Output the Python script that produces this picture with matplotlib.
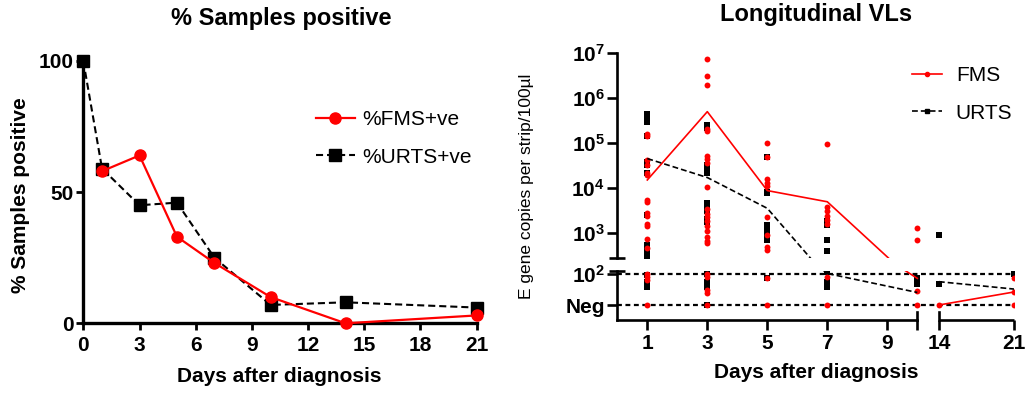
import matplotlib
matplotlib.use('Agg')
import matplotlib.pyplot as plt
from matplotlib.lines import Line2D
import numpy as np

plt.rcParams['font.family'] = 'Liberation Sans'
plt.rcParams['mathtext.fontset'] = 'custom'
plt.rcParams['mathtext.rm'] = 'Liberation Sans'
plt.rcParams['mathtext.bf'] = 'Liberation Sans:bold'

# ---- left panel: % samples positive ----
fms_days = [1, 3, 5, 7, 10, 14, 21]
fms_pct = [58, 64, 33, 23, 10, 0, 3]
urts_days = [0, 1, 3, 5, 7, 10, 14, 21]
urts_pct = [100, 59, 45, 46, 25, 7, 8, 6]

# ---- right panel: longitudinal viral loads ----
NEG = 10  # value used for negative samples on the lower segment
vl_days = [1, 3, 5, 7, 10, 14, 21]
fms_mean = [1.5e4, 5.0e5, 8.7e3, 4.9e3, 70, NEG, 26]
urts_mean = [4.5e4, 1.7e4, 3.5e3, 100, 25, 55, 32]

fms_d1 = [1.6e5, 1.45e5, 4.2e4, 3.3e4, 2.1e4, 1.9e4, 5.5e3, 4.8e3, 2.7e3, 2.4e3,
          1.6e3, 1.4e3, 7.2e2, 4.5e2, 98, 75, 60, NEG]
urts_d1 = [4.4e5, 3.6e5, 2.9e5, 1.4e5, 3.8e4, 3.2e4, 2.2e4, 2.5e3, 5.3e2, 4.1e2,
           3.0e2, 88, 55, 45, 38]
fms_d3 = [7.5e6, 3.1e6, 2.0e6, 2.1e5, 1.9e5, 5.1e4, 4.3e4, 3.5e4, 1.07e4, 3.3e3,
          2.6e3, 2.2e3, 1.8e3, 1.4e3, 1.1e3, 8.0e2, 6.5e2, 6.0e2, 100, 75, 30, 24, NEG]
urts_d3 = [2.5e5, 2.2e5, 3.2e4, 2.5e4, 2.1e4, 4.5e3, 3.8e3, 3.0e3, 2.0e3, 1.7e3,
           95, 55, 45, 38, NEG]
fms_d5 = [1.0e5, 5.0e4, 1.6e4, 1.3e4, 1.1e4, 2.3e3, 9.0e2, 4.9e2, 4.2e2, 70, NEG]
urts_d5 = [5.0e4, 8.1e3, 7.5e3, 1.5e3, 1.3e3, 1.1e3, 9.0e2, 8.0e2, 7.0e2, 70]
fms_d7 = [9.5e4, 3.8e3, 3.0e3, 2.4e3, 1.9e3, 1.6e3, 80, NEG]
urts_d7 = [1.8e3, 1.5e3, 6.9e2, 4.0e2, 110, 55, 38]
fms_d10 = [1.3e3, 6.9e2, 27, NEG]
urts_d10 = [70, 45]
fms_d14 = [NEG]
urts_d14 = [8.9e2, 45]
fms_d21 = [70, 26, NEG]
urts_d21 = [100]

fms_points = [fms_d1, fms_d3, fms_d5, fms_d7, fms_d10, fms_d14, fms_d21]
urts_points = [urts_d1, urts_d3, urts_d5, urts_d7, urts_d10, urts_d14, urts_d21]

fig = plt.figure(figsize=(10.27, 3.95), dpi=100)
W, H = 1027.0, 395.0

def box(x0, y0, x1, y1):
    # pixel box (top-left origin) -> figure fraction
    return [x0 / W, (H - y1) / H, (x1 - x0) / W, (y1 - y0) / H]

TICKFS = 15
LABFS = 15

# ================= left panel =================
ax1 = fig.add_axes(box(83.3, 61, 476.7, 323.3))
ax1.plot(urts_days, urts_pct, color='black', lw=1.5, ls=(0, (3.4, 1.9)),
         marker='s', ms=8.5, label='%URTS+ve', zorder=3)
ax1.plot(fms_days, fms_pct, color='red', lw=1.6, marker='o', ms=8,
         label='%FMS+ve', zorder=4)
ax1.set_xlim(0, 21)
ax1.set_ylim(0, 100)
ax1.set_xticks(range(0, 22, 3))
ax1.set_yticks([0, 50, 100])
for s in ['top', 'right']:
    ax1.spines[s].set_visible(False)
for s in ['left', 'bottom']:
    ax1.spines[s].set_linewidth(2.4)
ax1.tick_params(width=2, length=5, labelsize=TICKFS, pad=2)
ax1.tick_params(axis='x', pad=4)
for lab in ax1.get_xticklabels() + ax1.get_yticklabels():
    lab.set_fontweight('bold')
ax1.patch.set_alpha(0)
for ln in ax1.lines:
    ln.set_clip_on(False)

h, l = ax1.get_legend_handles_labels()
fig.legend(h[::-1], l[::-1], loc='upper left', bbox_to_anchor=(316 / W, (H - 110) / H),
           frameon=False, fontsize=15, handlelength=1.85, handletextpad=0.35,
           labelspacing=0.9, borderpad=0, borderaxespad=0)

fig.text(281 / W, (H - 18) / H, '% Samples positive', fontsize=17,
         fontweight='bold', ha='center', va='center')
fig.text(21 / W, (H - 195) / H, '% Samples positive', fontsize=LABFS,
         fontweight='bold', ha='center', va='center', rotation=90)
fig.text(279 / W, (H - 377) / H, 'Days after diagnosis', fontsize=LABFS,
         fontweight='bold', ha='center', va='center')

# ================= right panel (broken axes) =================
brk_in = [-20, 10, 14, 60]
brk_out = [-20, 10, 10.72, 10.72 + 46 * 0.359]

def fwd(x):
    return np.interp(x, brk_in, brk_out)

def inv(x):
    return np.interp(x, brk_out, brk_in)

ax_up = fig.add_axes(box(617.3, 53.3, 1014.3, 258.3))
ax_lo = fig.add_axes(box(617.3, 270.7, 1014.3, 320))

for ax in (ax_up, ax_lo):
    ax.set_xscale('function', functions=(fwd, inv))
    ax.set_yscale('log')
    ax.set_xlim(0, 21)
    ax.patch.set_alpha(0)
    for s in ['top', 'right', 'bottom']:
        ax.spines[s].set_visible(False)
    ax.spines['left'].set_linewidth(1.9)
    ax.minorticks_off()

ax_up.set_ylim(10 ** 2.43, 1e7)
ax_lo.set_ylim(10 ** 0.524, 10 ** 2.089)

# dotted reference lines on lower segment
ax_lo.axhline(100, color='black', lw=1.6, ls=(0, (2.2, 1.6)), zorder=1)
ax_lo.axhline(NEG, color='black', lw=1.6, ls=(0, (2.2, 1.6)), zorder=1)

for ax in (ax_up, ax_lo):
    for d, pts in zip(vl_days, urts_points):
        ax.scatter([d] * len(pts), pts, marker='s', s=16, color='black',
                   linewidths=0, zorder=3)
    for d, pts in zip(vl_days, fms_points):
        ax.scatter([d] * len(pts), pts, marker='o', s=18, color='red',
                   linewidths=0, zorder=4)
    # mean lines, not connected across the x break
    for part in (slice(0, 5), slice(5, 7)):
        ax.plot(vl_days[part], fms_mean[part], color='red', lw=1.2, zorder=5)
        ax.plot(vl_days[part], urts_mean[part], color='black', lw=1.2,
                ls=(0, (3.5, 1.8)), zorder=5)

# upper segment ticks
ax_up.set_yticks([1e3, 1e4, 1e5, 1e6, 1e7])
ax_up.set_yticklabels([r'$\mathbf{10^{%d}}$' % k for k in range(3, 8)])
ax_up.set_xticks([])
ax_up.tick_params(axis='y', width=1.9, length=7, labelsize=TICKFS, pad=2)
# break caps on the y axis
ax_up.plot([-0.02, 0.02], [0, 0], transform=ax_up.transAxes, color='black',
           lw=1.9, clip_on=False, solid_capstyle='butt')
ax_lo.plot([-0.02, 0.02], [1, 1], transform=ax_lo.transAxes, color='black',
           lw=1.9, clip_on=False, solid_capstyle='butt')

# lower segment ticks
ax_lo.set_yticks([NEG, 100])
ax_lo.set_yticklabels(['Neg', r'$\mathbf{10^{2}}$'])
ax_lo.set_xticks([1, 3, 5, 7, 9, 10, 14, 21])
ax_lo.set_xticklabels(['1', '3', '5', '7', '9', '', '14', '21'])
ax_lo.tick_params(axis='both', width=1.9, length=7, labelsize=TICKFS, pad=2)
ax_lo.tick_params(axis='x', pad=3)
for lab in ax_lo.get_xticklabels() + ax_lo.get_yticklabels():
    lab.set_fontweight('bold')
for lab in ax_up.get_yticklabels():
    lab.set_fontweight('bold')

# broken x axis line with caps
xt = ax_lo.get_xaxis_transform()
ax_lo.plot([0, 10], [0, 0], transform=xt, color='black', lw=1.9, clip_on=False,
           solid_capstyle='projecting')
ax_lo.plot([14, 21], [0, 0], transform=xt, color='black', lw=1.9, clip_on=False,
           solid_capstyle='butt')
for d in (10, 14):
    ax_lo.plot([d, d], [0, 0.16], transform=xt, color='black', lw=1.9,
               clip_on=False)

leg_h = [Line2D([], [], color='red', lw=1.2, marker='o', ms=3),
         Line2D([], [], color='black', lw=1.2, ls=(0, (3.5, 1.8)), marker='s', ms=3)]
fig.legend(leg_h, ['FMS', 'URTS'], loc='upper left',
           bbox_to_anchor=(912 / W, (H - 66) / H), frameon=False, fontsize=15,
           handlelength=1.45, handletextpad=0.65, labelspacing=0.9,
           borderpad=0, borderaxespad=0)

fig.text(816 / W, (H - 15) / H, 'Longitudinal VLs', fontsize=17,
         fontweight='bold', ha='center', va='center')
fig.text(526 / W, (H - 186) / H, 'E gene copies per strip/100µl', fontsize=12.5,
         ha='center', va='center', rotation=90)
fig.text(816 / W, (H - 373) / H, 'Days after diagnosis', fontsize=LABFS,
         fontweight='bold', ha='center', va='center')

fig.savefig('out.png', dpi=100)
